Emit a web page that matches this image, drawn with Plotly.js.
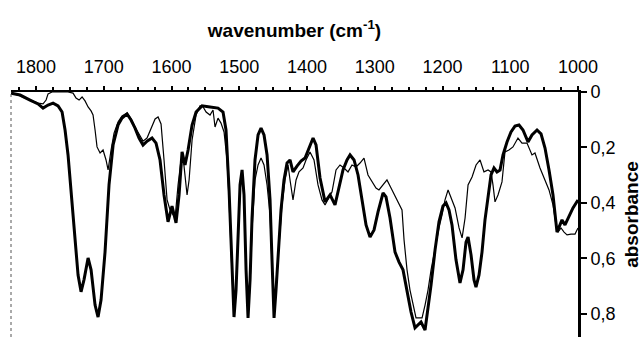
<!DOCTYPE html>
<html>
<head>
<meta charset="utf-8">
<script src="https://cdn.plot.ly/plotly-3.0.1.min.js"></script>
<style>html,body{margin:0;padding:0;background:#fff;}#chart{width:642px;height:337px;}</style>
</head>
<body>
<div id="chart"></div>
<script>
// Thick spectrum
const thickWavenumber = [1836.9,1823.6,1808.9,1797,1789.7,1782.3,1774.9,1767.5,1761.6,1757.2,1752.8,1748.3,1742.4,1738,1733.6,1729.2,1723.2,1718.8,1712.9,1708.5,1704.1,1698.2,1692.3,1686.3,1679,1673.1,1665.7,1659.8,1653.9,1648,1642.1,1636.2,1628.8,1622.9,1617,1611.1,1605.2,1599.3,1593.4,1588.9,1584.5,1580.1,1575.6,1569.7,1563.8,1555,1543.2,1531.4,1524,1519.6,1515.1,1510.7,1507.8,1504.8,1501.8,1498.9,1495.9,1493,1490,1487.1,1484.1,1481.2,1476.8,1472.3,1467.9,1463.5,1459,1454.6,1451.7,1448.7,1445.8,1442.8,1438.4,1434,1429.5,1425.1,1420.7,1414.8,1408.9,1402.9,1397,1391.1,1386.7,1380.8,1373.4,1366,1358.7,1352.8,1346.9,1341,1336.5,1330.6,1324.7,1318.8,1312.9,1307,1301.1,1295.2,1287.8,1283.4,1277.5,1270.1,1264.2,1258.3,1252.4,1246.5,1240.6,1236.2,1231.7,1225.8,1221.4,1216.9,1211,1205.2,1199.3,1194.8,1190.4,1186,1180.1,1174.2,1169.7,1165.3,1162.3,1157.9,1153.5,1150.6,1146.1,1141.7,1137.3,1132.8,1128.4,1124,1119.6,1115.1,1110.7,1104.8,1098.9,1093,1087.1,1081.2,1073.8,1067.9,1060.5,1054.6,1048.7,1042.8,1036.9,1031,1026.6,1023.6,1019.2,1013.3,1007.4,1000];
const thickAbsorbance = [0.004,0.011,0.029,0.043,0.058,0.047,0.040,0.050,0.072,0.137,0.227,0.353,0.515,0.66,0.72,0.676,0.598,0.641,0.768,0.811,0.75,0.577,0.335,0.191,0.119,0.094,0.079,0.101,0.13,0.166,0.191,0.177,0.166,0.184,0.245,0.371,0.468,0.411,0.472,0.371,0.216,0.263,0.209,0.119,0.072,0.05,0.054,0.058,0.072,0.137,0.353,0.641,0.811,0.714,0.515,0.335,0.281,0.371,0.641,0.814,0.677,0.454,0.245,0.155,0.13,0.155,0.227,0.389,0.605,0.814,0.714,0.577,0.425,0.317,0.256,0.245,0.288,0.267,0.249,0.238,0.202,0.166,0.191,0.31,0.396,0.371,0.407,0.346,0.281,0.245,0.227,0.245,0.299,0.389,0.479,0.523,0.497,0.432,0.364,0.378,0.454,0.577,0.613,0.641,0.72,0.793,0.85,0.84,0.829,0.858,0.786,0.695,0.569,0.468,0.411,0.4,0.425,0.479,0.605,0.688,0.641,0.541,0.523,0.587,0.677,0.703,0.659,0.577,0.461,0.371,0.299,0.274,0.288,0.281,0.227,0.18,0.144,0.123,0.119,0.137,0.18,0.155,0.137,0.151,0.202,0.281,0.371,0.505,0.479,0.461,0.479,0.45,0.418,0.389];

// Thin spectrum
const thinWavenumber = [1836.9,1826.6,1816.2,1805.9,1797,1789.7,1785.2,1782.3,1776.4,1764.6,1752.8,1745.4,1741,1736.5,1732.1,1727.7,1723.2,1718.8,1715.9,1712.9,1710,1705.5,1701.1,1696.7,1693.7,1689.3,1684.9,1679,1673.1,1665.7,1659.8,1653.9,1648,1642.1,1636.2,1630.2,1624.3,1619.9,1615.5,1611.1,1606.6,1602.2,1597.8,1594.8,1590.4,1586,1583,1580.1,1577.1,1574.1,1569.7,1563.8,1557.9,1553.4,1549,1543.2,1538.8,1535.8,1531.4,1527,1522.5,1518.1,1515.1,1510.7,1507.8,1504.8,1501.8,1498.9,1495.9,1493,1490,1487.1,1484.1,1481.2,1476.8,1472.3,1467.9,1463.5,1459,1454.6,1451.7,1448.7,1445.8,1441.3,1436.9,1432.5,1428,1425.1,1420.7,1416.2,1411.8,1405.9,1401.5,1395.6,1389.7,1383.8,1377.9,1373.4,1367.5,1363.1,1357.2,1351.3,1345.4,1339.5,1333.6,1327.7,1321.8,1315.9,1310,1304.1,1298.2,1293.8,1287.8,1282,1276,1270.1,1264.2,1259.8,1256.8,1252.4,1248,1243.5,1239.1,1234.6,1230.2,1225.8,1221.4,1216.9,1211,1205.2,1200.7,1196.3,1191.8,1187.4,1181.5,1175.6,1171.1,1166.7,1162.3,1156.4,1150.5,1144.6,1138.8,1132.8,1128.4,1125.5,1122.5,1118.1,1112.2,1107.8,1101.9,1096,1088.6,1082.7,1075.3,1067.9,1063.5,1056.1,1048.7,1042.8,1036.9,1032.5,1029.5,1025.1,1020.6,1016.2,1010.3,1004.4,1000];
const thinAbsorbance = [0.004,0.011,0.022,0.032,0.04,0.043,0.029,0.007,0.0,0.0,0.0,0.004,0.022,0.029,0.018,0.032,0.054,0.068,0.083,0.137,0.198,0.22,0.209,0.245,0.281,0.209,0.148,0.108,0.086,0.076,0.097,0.126,0.151,0.177,0.166,0.13,0.097,0.09,0.115,0.245,0.389,0.425,0.44,0.454,0.335,0.245,0.234,0.299,0.371,0.317,0.173,0.083,0.05,0.054,0.072,0.083,0.065,0.126,0.094,0.112,0.144,0.245,0.389,0.659,0.804,0.714,0.533,0.353,0.299,0.382,0.641,0.807,0.695,0.497,0.317,0.263,0.238,0.263,0.335,0.443,0.623,0.807,0.695,0.533,0.407,0.317,0.263,0.317,0.389,0.317,0.288,0.274,0.245,0.216,0.245,0.335,0.389,0.407,0.382,0.36,0.281,0.263,0.274,0.288,0.263,0.27,0.256,0.238,0.299,0.324,0.346,0.353,0.335,0.317,0.346,0.375,0.407,0.425,0.533,0.641,0.714,0.768,0.814,0.814,0.814,0.768,0.714,0.641,0.562,0.49,0.443,0.389,0.353,0.382,0.418,0.49,0.526,0.454,0.335,0.306,0.263,0.245,0.288,0.281,0.288,0.335,0.396,0.371,0.324,0.216,0.209,0.198,0.166,0.184,0.184,0.227,0.22,0.274,0.317,0.353,0.407,0.479,0.505,0.49,0.505,0.515,0.512,0.512,0.49];

const xTickVals = [1800,1700,1600,1500,1400,1300,1200,1100,1000];
const xTickText = ["1800","1700","1600","1500","1400","1300","1200","1100","1000"];
const yTickVals = [0,0.2,0.4,0.6,0.8];
const yTickText = ["0","0,2","0,4","0,6","0,8"];

const font = {family: "Liberation Sans, Arial, sans-serif", size: 18, color: "#000"};
const titleFont = {family: "Liberation Sans, Arial, sans-serif", size: 19, color: "#000"};

const traces = [
  {x: thinWavenumber, y: thinAbsorbance, type: "scatter", mode: "lines",
   line: {color: "#000", width: 1.2}, hoverinfo: "skip"},
  {x: thickWavenumber, y: thickAbsorbance, type: "scatter", mode: "lines",
   line: {color: "#000", width: 3}, hoverinfo: "skip"}
];

const layout = {
  width: 642, height: 337,
  margin: {l: 11, r: 64, t: 92, b: 0},
  paper_bgcolor: "#fff", plot_bgcolor: "#fff",
  showlegend: false,
  font: font,
  xaxis: {
    side: "top", range: [1837, 1000], showgrid: false, zeroline: false,
    showline: true, linecolor: "#000", linewidth: 2,
    tickmode: "array", tickvals: xTickVals, ticktext: xTickText,
    ticks: "outside", ticklen: 4, tickwidth: 2, tickcolor: "#000",
    ticklabelstandoff: 6,
    minor: {dtick: 25, ticks: "outside", ticklen: 3, tickwidth: 2, tickcolor: "#000"},
    tickfont: font,
    title: {text: "<b>wavenumber (cm<sup>-1</sup>)</b>", font: titleFont, standoff: 14}
  },
  yaxis: {
    side: "right", range: [0.883, 0], showgrid: false, zeroline: false,
    showline: true, linecolor: "#000", linewidth: 3,
    tickmode: "array", tickvals: yTickVals, ticktext: yTickText,
    ticks: "outside", ticklen: 6, tickwidth: 2, tickcolor: "#000",
    tickfont: font,
    title: {text: "<b>absorbance</b>", font: titleFont, standoff: 12}
  },
  shapes: [
    {type: "line", xref: "paper", yref: "paper", x0: 0, x1: 0, y0: 0, y1: 1,
     line: {color: "#555", width: 1, dash: "dot"}}
  ]
};

Plotly.newPlot("chart", traces, layout, {staticPlot: true, displayModeBar: false});
</script>
</body>
</html>
